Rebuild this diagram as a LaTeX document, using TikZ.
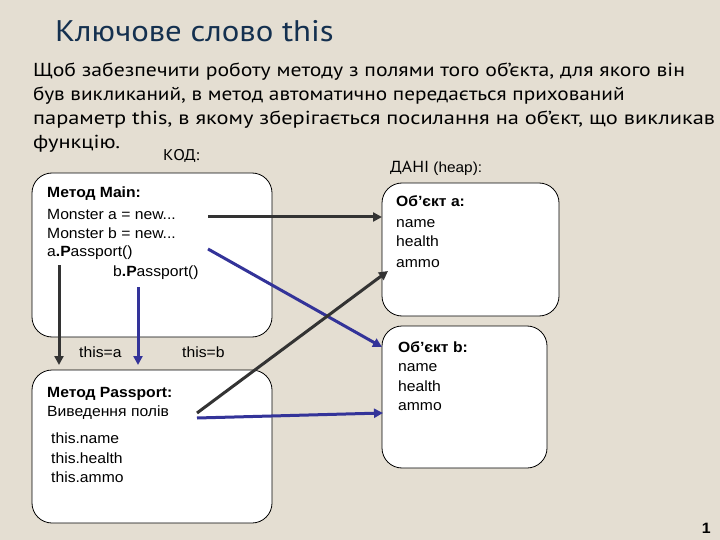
\documentclass[tikz,border=0pt]{standalone}
\usepackage{graphicx}
\usepackage{fontspec}
\setmainfont{Liberation Sans}[FakeStretch=1.06]
\newfontfamily\ptsans{PT Sans}[FakeStretch=1.1]
\newfontfamily\ptwide{PT Sans}[FakeStretch=1.19]
\usetikzlibrary{arrows.meta}
\definecolor{bg}{HTML}{E4DED2}
\definecolor{titleblue}{HTML}{14304F}
\definecolor{darkln}{HTML}{333333}
\definecolor{blueln}{HTML}{333399}
\tikzset{
  box/.style={draw=black, line width=0.8pt, fill=white, rounded corners=20pt},
  txt/.style={anchor=base west, inner sep=0pt, font=\fontsize{14.8}{16}\selectfont},
  para/.style={anchor=base west, inner sep=0pt, font=\ptwide\fontsize{18.8}{22}\selectfont},
  darkarrow/.style={draw=darkln, line width=3pt, -{Triangle[length=9pt,width=9pt]}},
  bluearrow/.style={draw=blueln, line width=3pt, -{Triangle[length=9pt,width=9pt]}},
}
\begin{document}
\begin{tikzpicture}[x=1pt,y=-1pt]
\fill[bg] (0,0) rectangle (720,540);
\useasboundingbox (0,0) rectangle (720,540);
% title
\node[anchor=base west, inner sep=0pt, text=titleblue, font=\ptsans\fontsize{29.8}{32}\selectfont] (title) at (55,42) {Ключове слово this};
% paragraph
\node[para] (p1) at (33,77) {\scalebox{0.97}[1]{Щоб забезпечити роботу методу з полями того об’єкта, для якого він}};
\node[para] (p2) at (33,101) {\scalebox{0.95}[1]{був викликаний, в метод автоматично передається прихований}};
\node[para] (p3) at (33,125) {параметр this, в якому зберігається посилання на об’єкт, що викликав};
\node[para] (p4) at (33,149) {функцію.};
\node[anchor=base west, inner sep=0pt, font=\ptsans\fontsize{15.5}{17}\selectfont] (kod) at (163,161) {КОД:};
\node[anchor=base west, inner sep=0pt, font=\fontsize{14.5}{17}\selectfont] (dani) at (390,173) {{\ptsans\fontsize{16}{17}\selectfont ДАНІ} (heap):};
% boxes
\draw[box] (32,173) rectangle (272,337);
\draw[box] (32,370) rectangle (272,523);
\draw[box] (382,183) rectangle (559,316);
\draw[box] (382,326) rectangle (547,468);
% main box text
\node[txt] (m0) at (47,198) {\textbf{Метод Main:}};
\node[txt] (m1) at (47,219) {Monster a = new...};
\node[txt] (m2) at (47,238) {Monster b = new...};
\node[txt] (m3) at (47,256) {a\textbf{.P}assport()};
\node[txt] (m4) at (113,276) {b\textbf{.P}assport()};
% passport box text
\node[txt] (q0) at (47,397) {\textbf{Метод Passport:}};
\node[txt] (q1) at (47,416) {Виведення полів};
\node[txt] (q2) at (51,443) {this.name};
\node[txt] (q3) at (51,463) {this.health};
\node[txt] (q4) at (51,482) {this.ammo};
% object a
\node[txt] (a0) at (396,207) {\textbf{Об’єкт a:}};
\node[txt] (a1) at (396,227) {name};
\node[txt] (a2) at (396,247) {health};
\node[txt] (a3) at (396,267) {ammo};
% object b
\node[txt] (b0) at (398,352) {\textbf{Об’єкт b:}};
\node[txt] (b1) at (398,371) {name};
\node[txt] (b2) at (398,391) {health};
\node[txt] (b3) at (398,410) {ammo};
% labels
\node[txt] (ta) at (79,357) {this=a};
\node[txt] (tb) at (182,357) {this=b};
% connector endpoints
\coordinate (s1) at (208,217);
\coordinate (e1) at (382,217);
\coordinate (s2) at (208,249);
\coordinate (e2) at (382,347);
\coordinate (s3) at (59,265);
\coordinate (e3) at (59,365);
\coordinate (s4) at (138,287);
\coordinate (e4) at (138,365);
\coordinate (s5) at (197,413);
\coordinate (e5) at (388,271);
\coordinate (s6) at (197,418);
\coordinate (e6) at (383,413);
\draw[darkarrow] (s1) -- (e1);
\draw[bluearrow] (s2) -- (e2);
\draw[darkarrow] (s3) -- (e3);
\draw[bluearrow] (s4) -- (e4);
\draw[darkarrow] (s5) -- (e5);
\draw[bluearrow] (s6) -- (e6);
\node[anchor=base east, inner sep=0pt, font=\bfseries\fontsize{15}{17}\selectfont] (pg) at (711,533) {1};
\end{tikzpicture}
\end{document}
